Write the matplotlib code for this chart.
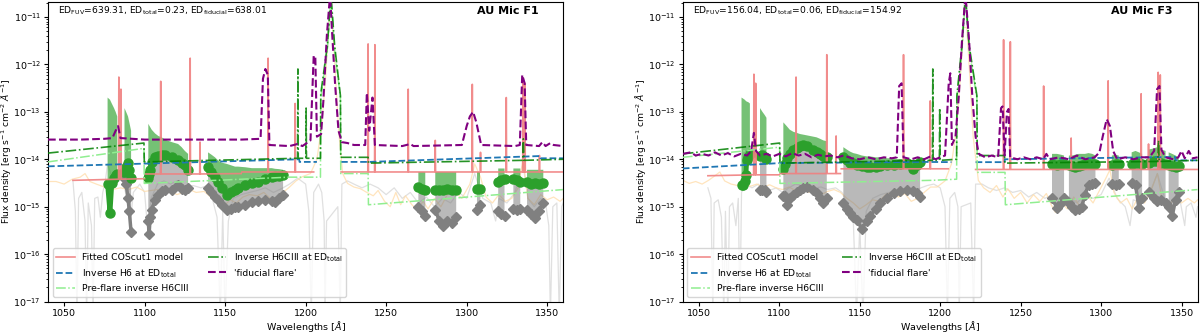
import numpy as np
import matplotlib
matplotlib.use("Agg")
import matplotlib.pyplot as plt

nan = np.nan

# ---------------- AU Mic F1 ----------------
F1_GREY = [(1055.5, 3.5e-15), (1057, 8e-16), (1058, 5e-18), (1059, 1.5e-15), (1061, 2e-15), (1063, 5e-16),
           (1064, 5e-18), (1065, 1.2e-15), (1067, 4e-16), (1068, 5e-18), (1069, 1.5e-15), (1071, 1.6e-15),
           (1072.5, 6e-16), (1074, 2e-15), (1075.4, 3.1e-15), (1077, 8e-15), (1079, 5e-15), (1082, 3e-15),
           (1086, 4e-15), (1089, 1.5e-15), (1091, 4e-16), (1093, 2e-15), (1097, 3e-15), (1100, 2e-15),
           (1102, 3e-16), (1104, 1.5e-15), (1108, 3e-15), (1112, 3.5e-15), (1116, 3e-15), (1120, 3.5e-15),
           (1125, 2.5e-15), (1130, 2.8e-15), (1135, 2.5e-15), (1139, 2.8e-15), (1142, 1.5e-15), (1145, 6e-16),
           (1147, 5e-18), (1148.5, 8e-16), (1150, 5e-18), (1152, 5e-16), (1155, 1.5e-15), (1160, 1.8e-15),
           (1165, 2e-15), (1170, 2.2e-15), (1175, 2.5e-15), (1180, 2e-15), (1185, 2.4e-15), (1190, 3e-15),
           (1195, 4e-15), (1200, 3e-15), (1202, 8e-16), (1203.5, 5e-18), (1205, 2e-15), (1208, 3e-15),
           (1210, 2e-15), (1211.5, 5e-16), (1212, 5e-18), (1213, 5e-16), (1220, 1e-15), (1221.5, 5e-18),
           (1222.5, 3e-15), (1226, 3.5e-15), (1230, 3e-15), (1235, 2.5e-15), (1240, 3e-15), (1245, 2.5e-15),
           (1250, 1.8e-15), (1255, 2.5e-15), (1260, 1.5e-15), (1265, 2e-15), (1270, 1.2e-15), (1275, 1.6e-15),
           (1280, 1e-15), (1285, 1.5e-15), (1290, 1.2e-15), (1295, 2e-15), (1300, 1.5e-15), (1305, 5e-15),
           (1310, 1.5e-15), (1315, 1.2e-15), (1318, 5e-16), (1320, 1.5e-15), (1325, 1.2e-15), (1330, 2e-15),
           (1335, 8e-15), (1338, 1.5e-15), (1342, 1e-15), (1346, 1.5e-15), (1349, 1.2e-15), (1351, 4e-16),
           (1352, 5e-18), (1353.5, 1e-15), (1356, 1.2e-15), (1357.5, 5e-18), (1359, 1e-15), (1360, 1.2e-15)]

F1_PREFLARE = [(1040, 3.4e-15), (1045, 3.4e-15), (1050, 3.0e-15), (1055, 3.8e-15), (1060, 4.2e-15), (1063, 5e-15),
               (1066, 3.4e-15), (1070, 3.0e-15), (1075, 2.6e-15), (1080, 2.3e-15), (1085, 2.5e-15), (1090, 2.3e-15),
               (1095, 2.6e-15), (1100, 2.1e-15), (1104, 2.2e-15), (1108, 2.3e-15), (1112, 1.8e-15), (1116, 2.2e-15),
               (1120, 1.8e-15), (1124, 2.0e-15), (1128, 2.3e-15), (1132, 2.0e-15), (1137, 2.1e-15), (1141, 1.6e-15),
               (1145, 1.2e-15), (1149, 1.0e-15), (1153, 1.4e-15), (1157, 1.2e-15), (1161, 1.6e-15), (1165, 1.8e-15),
               (1170, 1.7e-15), (1174, 2.0e-15), (1178, 1.5e-15), (1182, 1.3e-15), (1186, 2.0e-15), (1190, 2.6e-15),
               (1194, 3.5e-15), (1198, 4.3e-15), (1203, 5e-15), (1207, 1e-14), (1210, 5e-14), (1212.5, 6e-13),
               (1214.5, 8e-12), (1216.5, 8e-12), (1218.5, 6e-13), (1220.5, 4e-14), (1223, 5e-15), (1226, 3.1e-15),
               (1230, 2.6e-15), (1234, 2.4e-15), (1238, 2.0e-15), (1242, 1.7e-15), (1245, 2.2e-15), (1249, 1.3e-15),
               (1252.5, 1.0e-15), (1256, 2.0e-15), (1259, 1.1e-15), (1262, 1.7e-15), (1266, 1.1e-15), (1269, 8.7e-16),
               (1273, 1.3e-15), (1276, 9e-16), (1280, 1.5e-15), (1284, 1e-15), (1288, 1.8e-15), (1292, 2.2e-15),
               (1297, 1.5e-15), (1302, 3e-15), (1305, 8e-15), (1308.5, 4.3e-15), (1312, 1.6e-15), (1316, 1.2e-15),
               (1320, 1.8e-15), (1324, 1.3e-15), (1328, 1.5e-15), (1332, 2.5e-15), (1335, 1e-14), (1338, 1.5e-15),
               (1342, 1.1e-15), (1346, 1.8e-15), (1350, 1.4e-15), (1354, 1.6e-15), (1358, 1.3e-15), (1360, 1.5e-15)]

# (wavelength, pre-flare diamond, flare dot, upper flare envelope)
F1_POINTS = [(1077.0, nan, 3.0e-15, 2.0e-13), (1078.5, nan, 7.5e-16, 1.8e-13), (1079.6, nan, 3.1e-15, 1.5e-13),
             (1081.0, nan, 4.0e-15, 1.2e-13), (1082.0, nan, 4.6e-15, 1.0e-13), (1083.0, nan, 5.0e-15, 8e-14),
             (nan, nan, nan, nan),
             (1087.5, 4e-15, 5.4e-15, 1.2e-13), (1088.5, 3e-15, 7e-15, 1.0e-13), (1089.7, 1.5e-15, 8.3e-15, 8e-14),
             (1090.5, 8e-16, 6e-15, 6e-14), (1091.6, 2.9e-16, 4e-15, 4e-14),
             (nan, nan, nan, nan),
             (1102.3, 5e-16, 4e-15, 5.6e-14), (1102.8, 2.6e-16, 5e-15, 5.2e-14), (1103.4, 6e-16, 5.9e-15, 4.8e-14),
             (1104.4, 8.7e-16, 8.9e-15, 4.2e-14), (1106.5, 1.4e-15, 1.1e-14, 3.5e-14), (1108.5, 1.8e-15, 1.2e-14, 3.1e-14),
             (1110.6, 2.1e-15, 1.25e-14, 2.9e-14), (1112.7, 2.2e-15, 1.25e-14, 2.6e-14), (1116.9, 2.3e-15, 1.1e-14, 2.3e-14),
             (1120.8, 2.9e-15, 9.5e-15, 2.1e-14), (1123.0, 2.4e-15, 8.5e-15, 1.8e-14), (1125.0, 2.2e-15, 7.5e-15, 1.5e-14),
             (1127.0, 2.5e-15, 6e-15, 1.3e-14),
             (nan, nan, nan, nan),
             (1139.4, 2.5e-15, 6.9e-15, 1.4e-14), (1141.5, 2e-15, 5.5e-15, 1.25e-14), (1143.7, 1.6e-15, 4.3e-15, 1.1e-14),
             (1145.6, 1.4e-15, 3.3e-15, 9.5e-15), (1147.9, 1.1e-15, 2.5e-15, 8.5e-15), (1151.0, 8.7e-16, 1.8e-15, 8e-15),
             (1153.5, 9e-16, 2e-15, 7.5e-15), (1156.2, 1e-15, 2.3e-15, 7e-15), (1158.0, 1e-15, 2.5e-15, 7e-15),
             (1162.4, 1.1e-15, 2.9e-15, 6.8e-15), (1166.6, 1.25e-15, 3.1e-15, 6.5e-15), (1170.5, 1.3e-15, 3.4e-15, 6.5e-15),
             (1174.8, 1.4e-15, 3.8e-15, 6.5e-15), (1179.0, 1.3e-15, 4.3e-15, 6.5e-15), (1181.0, 1.25e-15, 4.4e-15, 6.3e-15),
             (1183.5, 1.5e-15, 4.5e-15, 6.2e-15), (1186.0, 1.8e-15, 4.6e-15, 6e-15),
             (nan, nan, nan, nan),
             (1270.0, 1.0e-15, 2.6e-15, 5.4e-15), (1272.0, 8e-16, 2.4e-15, 5.4e-15), (1274.3, 6.3e-16, 2.3e-15, 5.4e-15),
             (nan, nan, nan, nan),
             (1280.5, 8.7e-16, 2.3e-15, 5.4e-15), (1283.0, 5e-16, 2.2e-15, 5.4e-15), (1285.5, 3.9e-16, 2.3e-15, 5.4e-15),
             (1288.0, 5e-16, 2.4e-15, 5.4e-15), (1291.0, 4.5e-16, 2.2e-15, 5.4e-15), (1293.5, 6e-16, 2.3e-15, 5.4e-15),
             (nan, nan, nan, nan),
             (1306.4, 8.7e-16, 2.4e-15, 5.4e-15), (1308.5, 1.1e-15, 2.4e-15, 5.4e-15),
             (nan, nan, nan, nan),
             (1319.6, 8e-16, 3.4e-15, 6.4e-15), (1321.5, 7e-16, 3.6e-15, 6.4e-15), (1323.5, 6.3e-16, 3.8e-15, 6.4e-15),
             (nan, nan, nan, nan),
             (1329.0, 9e-16, 3.8e-15, 6.4e-15), (1331.0, 8.7e-16, 3.6e-15, 6.4e-15), (1333.3, 9e-16, 3.3e-15, 6.4e-15),
             (nan, nan, nan, nan),
             (1337.5, 8.7e-16, 3.3e-15, 6e-15), (1340.0, 7e-16, 3e-15, 6e-15), (1342.5, 5.8e-16, 3.1e-15, 6e-15),
             (1345.0, 8e-16, 3e-15, 6e-15), (1347.6, 1.2e-15, 3.2e-15, 6e-15)]

F1_MODEL = [(1055.5, 3.6e-15), (1083.8, 3.8e-15), (1084.0, 5.4e-13), (1084.2, 3.8e-15), (1085.1, 3.8e-15),
            (1085.3, 3e-13), (1085.5, 3.8e-15), (1100.0, 3.9e-15), (nan, nan),
            (1100.5, 4.9e-15), (1109.8, 4.9e-15), (1110.0, 4.4e-13), (1110.2, 4.9e-15), (1128.1, 4.9e-15),
            (1128.3, 1.35e-12), (1128.5, 4.9e-15), (1134.2, 4.9e-15), (1134.4, 2.3e-14), (1134.6, 4.9e-15),
            (1160.0, 5e-15), (nan, nan),
            (1160.5, 5.4e-15), (1176.5, 5.4e-15), (1176.7, 1.35e-12), (1176.9, 5.4e-15), (1193.3, 5.4e-15),
            (1193.5, 1.5e-13), (1193.7, 5.4e-15), (1205.0, 5.4e-15), (nan, nan),
            (1222.0, 5.4e-15), (1238.6, 5.4e-15), (1238.8, 2.7e-12), (1239.0, 5.4e-15), (1242.8, 5.4e-15),
            (1243.0, 2.6e-12), (1243.2, 5.4e-15), (1263.5, 5.4e-15), (1263.7, 3e-13), (1263.9, 5.4e-15),
            (1280.3, 5.4e-15), (1280.5, 2.5e-14), (1280.7, 5.4e-15), (1303.3, 5.4e-15), (1303.5, 3.8e-13),
            (1303.7, 5.4e-15), (1308.4, 5.4e-15), (1308.6, 1.4e-14), (1308.8, 5.4e-15), (1324.4, 5.4e-15),
            (1324.6, 2e-13), (1324.8, 5.4e-15), (1334.8, 5.4e-15), (1335.0, 5.2e-13), (1335.2, 5.4e-15),
            (1336.0, 5.4e-15), (1336.2, 4e-13), (1336.4, 5.4e-15), (1345.0, 5.4e-15), (1345.2, 1.2e-14),
            (1345.4, 5.4e-15), (1360.0, 5.4e-15)]

F1_INV_H6 = [(1040, 7.1e-15), (1196.0, 1.0e-14), (1196.2, 8.8e-15), (1207.0, 8.8e-15), (nan, nan),
             (1222.0, 8.8e-15), (1239.5, 8.8e-15), (1345.5, 1.17e-14), (1345.7, 1.05e-14), (1360, 1.05e-14)]

F1_PRE_H6CIII = [(1040, 8.8e-15), (1099.6, 1.7e-14), (1099.8, 3.1e-15), (1190, 4.2e-15), (1209.2, 4.2e-15),
                 (1209.4, 2e-13), (1213.5, 2e-12), (1215.7, 2.5e-11), (1218, 2e-12), (1221.6, 2e-13),
                 (1221.8, 5e-15), (1238.8, 5e-15), (1239.0, 1.1e-15), (1360, 2.3e-15)]

F1_INV_H6CIII = [(1040, 1.35e-14), (1099.6, 2.2e-14), (1099.8, 8.8e-15), (1195.0, 1.05e-14), (1195.2, 8e-13),
                 (1195.4, 1.05e-14), (1200.1, 1.05e-14), (1200.3, 1.2e-13), (1200.5, 1.05e-14), (1209.2, 1.05e-14),
                 (1209.4, 2.4e-13), (1213.5, 2.5e-12), (1215.7, 3e-11), (1218, 2.5e-12), (1221.6, 2.2e-13),
                 (1221.8, 1.1e-14), (1238.8, 1.1e-14), (1239.0, 8.3e-15), (1334.8, 9.5e-15), (1335.2, 2.7e-14),
                 (1335.6, 9.5e-15), (1360, 1e-14)]

F1_FIDUCIAL = [(1040, 2.6e-14), (1060, 2.6e-14), (1075, 2.7e-14), (1080, 2.8e-14), (1082, 4e-14), (1083.5, 5e-14),
               (1085, 2.8e-14), (1100, 2.6e-14), (1130, 2.6e-14), (1160, 2.6e-14), (1172, 2.7e-14), (1173.5, 5e-13),
               (1175, 8e-13), (1176.5, 6e-13), (1177.5, 2e-14), (1190, 1.9e-14), (1195, 2.1e-14), (1198, 1.9e-14),
               (1203, 2.5e-14), (1205, 1.5e-12), (1206, 1.5e-12), (1207, 3e-14), (1209.6, 3.4e-14), (1211, 1.7e-13),
               (1213.2, 4.2e-12), (1215.2, 3e-11), (1216.3, 5.6e-12), (1218.3, 3.8e-13), (1220.4, 4e-14),
               (1222.5, 2.3e-14), (1226, 2.2e-14), (1230, 2e-14), (1237, 2e-14), (1238, 2.5e-13), (1239.5, 4e-14),
               (1241.5, 2e-13), (1243, 2e-14), (1260, 1.9e-14), (1265, 2.1e-14), (1267, 1.9e-14), (1297, 2e-14),
               (1300, 5e-14), (1302, 8e-14), (1304, 1e-13), (1306, 6e-14), (1309, 2e-14), (1330, 1.9e-14),
               (1333, 2e-14), (1334.5, 6e-13), (1336, 4e-13), (1337, 2e-14), (1345, 1.9e-14), (1347, 2.3e-14),
               (1349, 1.9e-14), (1352, 2.2e-14), (1354, 2e-14), (1360, 1.9e-14)]

# ---------------- AU Mic F3 ----------------
F3_GREY = [(1055.6, 2.5e-15), (1057.5, 1.5e-15), (1058.7, 5e-18), (1059.5, 1.2e-15), (1062, 1.4e-15), (1064, 6e-16),
           (1065.5, 5e-18), (1066.5, 8e-16), (1068, 5e-18), (1069, 1e-15), (1071, 1.2e-15), (1073, 4e-16),
           (1074.5, 1.5e-15), (1075.5, 5e-18), (1076.5, 2e-15), (1079, 3e-15), (1083, 2.5e-15), (1087, 3e-15),
           (1090, 2e-15), (1094, 2.2e-15), (1098, 2.5e-15), (1102, 2e-15), (1106, 2.5e-15), (1110, 3e-15),
           (1114, 2.8e-15), (1118, 3e-15), (1122, 2.5e-15), (1126, 2.6e-15), (1130, 2.3e-15), (1135, 2.5e-15),
           (1139, 2e-15), (1143, 1e-15), (1146, 5e-16), (1148, 5e-18), (1150, 4e-16), (1152, 5e-18),
           (1154, 8e-16), (1158, 1.5e-15), (1163, 1.8e-15), (1168, 2e-15), (1173, 2.2e-15), (1178, 2.3e-15),
           (1183, 2e-15), (1188, 2.5e-15), (1192, 2.8e-15), (1196, 3e-15), (1200, 2.5e-15), (1203, 1e-15),
           (1204.5, 5e-18), (1206, 1.5e-15), (1209, 2e-15), (1211, 1e-15), (1211.8, 5e-18), (1213, 1e-15),
           (1219, 1.2e-15), (1220.8, 5e-18), (1222, 3e-15), (1226, 3e-15), (1230, 2.5e-15), (1235, 2.2e-15),
           (1240, 2.5e-15), (1245, 2e-15), (1250, 2.2e-15), (1255, 1.6e-15), (1260, 2e-15), (1265, 1.5e-15),
           (1270, 1.8e-15), (1275, 1.3e-15), (1280, 1.6e-15), (1285, 1.2e-15), (1290, 1.8e-15), (1295, 1.5e-15),
           (1300, 1.8e-15), (1305, 4e-15), (1310, 1.5e-15), (1315, 1e-15), (1318, 4e-16), (1320, 1.4e-15),
           (1325, 1.2e-15), (1330, 1.8e-15), (1335, 5e-15), (1340, 1.3e-15), (1345, 1e-15), (1349, 1.4e-15),
           (1352, 4e-16), (1353, 1e-15), (1356, 1.2e-15), (1359, 6e-16), (1360, 1e-15)]

F3_PREFLARE = [(1040, 3.6e-15), (1044, 3.1e-15), (1048, 3.4e-15), (1052, 3.0e-15), (1056, 3.6e-15), (1060, 4.5e-15),
               (1063, 5.4e-15), (1066, 3.5e-15), (1070, 3e-15), (1074, 2.8e-15), (1078, 3.2e-15), (1082, 2.7e-15),
               (1086, 3e-15), (1090, 2.6e-15), (1094, 2.9e-15), (1098, 2.5e-15), (1102, 2.3e-15), (1106, 2.6e-15),
               (1110, 2.2e-15), (1114, 2.5e-15), (1118, 2.0e-15), (1122, 2.2e-15), (1126, 1.8e-15), (1130, 2.1e-15),
               (1134, 2.3e-15), (1138, 2.0e-15), (1142, 1.5e-15), (1146, 1.2e-15), (1150, 9e-16), (1154, 1.1e-15),
               (1158, 1.4e-15), (1162, 1.3e-15), (1166, 1.8e-15), (1170, 2e-15), (1174, 1.6e-15), (1178, 1.9e-15),
               (1182, 1.3e-15), (1186, 1.5e-15), (1190, 2e-15), (1194, 2.6e-15), (1198, 2.6e-15), (1203, 3.5e-15),
               (1207, 8e-15), (1210, 4e-14), (1212.5, 5e-13), (1214.5, 6e-12), (1216.5, 6e-12), (1218.5, 5e-13),
               (1220.5, 3e-14), (1223.7, 3.6e-15), (1227, 2.5e-15), (1231, 2e-15), (1235, 2.8e-15), (1239, 1.6e-15),
               (1242, 2.4e-15), (1246, 1.5e-15), (1250, 2.0e-15), (1254, 1.2e-15), (1258, 1.8e-15), (1262, 1.3e-15),
               (1266, 1.9e-15), (1269, 1.1e-15), (1271.6, 7.6e-16), (1275, 1.3e-15), (1279, 9e-16), (1283, 1.6e-15),
               (1287, 1e-15), (1291, 1.8e-15), (1295, 1.2e-15), (1299, 2.2e-15), (1303, 4e-15), (1305.5, 6e-15),
               (1308, 2e-15), (1312, 1.2e-15), (1316, 1.5e-15), (1319.4, 9e-16), (1323, 1.6e-15), (1327, 1.2e-15),
               (1331, 2.2e-15), (1335, 5e-15), (1338, 1.4e-15), (1342, 1e-15), (1346, 1.6e-15), (1350, 1.2e-15),
               (1354, 1.5e-15), (1358, 1.2e-15), (1360, 1.4e-15)]

F3_POINTS = [(1076.5, nan, 2.9e-15, 2.0e-13), (1077.5, nan, 2.9e-15, 1.9e-13), (1078.5, nan, 3.5e-15, 1.8e-13),
             (1079.2, nan, 4.6e-15, 1.7e-13), (1079.7, nan, 9.5e-15, 1.65e-13), (1080.7, nan, 1.1e-14, 1.6e-13),
             (1081.7, nan, 1.3e-14, 1.5e-13),
             (nan, nan, nan, nan),
             (1088.0, 2.3e-15, 1.2e-14, 1.2e-13), (1089.5, 2.3e-15, 1.25e-14, 1.0e-13), (1091.0, 2.3e-15, 1.1e-14, 8.5e-14),
             (1092.0, 2.0e-15, 1.0e-14, 7.5e-14),
             (nan, nan, nan, nan),
             (1102.5, 1.65e-15, 6.3e-15, 6e-14), (1103.5, 1.65e-15, 8e-15, 5.5e-14), (1104.6, 1.1e-15, 1.05e-14, 5e-14),
             (1106.5, 1.5e-15, 1.3e-14, 4.2e-14), (1108.7, 1.8e-15, 1.55e-14, 3.8e-14), (1110.8, 2e-15, 1.75e-14, 3.6e-14),
             (1113.0, 2.3e-15, 1.9e-14, 3.4e-14), (1115.0, 2.5e-15, 2e-14, 3.3e-14), (1117.0, 2.6e-15, 1.9e-14, 3.2e-14),
             (1121.1, 2.2e-15, 1.55e-14, 3.0e-14), (1123.2, 1.9e-15, 1.4e-14, 2.9e-14), (1125.3, 1.5e-15, 1.3e-14, 2.7e-14),
             (1127.4, 1.2e-15, 1.2e-14, 2.5e-14), (1129.5, 1.5e-15, 1.1e-14, 2.4e-14),
             (nan, nan, nan, nan),
             (1139.8, 1.2e-15, 1.1e-14, 1.8e-14), (1142.0, 9e-16, 9.5e-15, 1.6e-14), (1144.0, 7.4e-16, 8.5e-15, 1.45e-14),
             (1146.0, 6.2e-16, 8.3e-15, 1.35e-14), (1148.1, 5.3e-16, 7.7e-15, 1.3e-14), (1151.3, 3.4e-16, 7.2e-15, 1.2e-14),
             (1154.4, 5e-16, 7e-15, 1.15e-14), (1156.4, 6.3e-16, 7e-15, 1.15e-14), (1160.0, 9e-16, 7e-15, 1.1e-14),
             (1162.7, 1.2e-15, 7.2e-15, 1.1e-14), (1167.0, 1.5e-15, 7.4e-15, 1.05e-14), (1171.0, 1.9e-15, 7.5e-15, 1.05e-14),
             (1175.0, 2.1e-15, 8e-15, 1.0e-14), (1179.3, 2.3e-15, 8.3e-15, 1.0e-14), (1183.4, 2.1e-15, 6.3e-15, 9.5e-15),
             (1185.5, 1.9e-15, 7.5e-15, 9.5e-15), (1187.5, 1.6e-15, 8.8e-15, 9.8e-15),
             (nan, nan, nan, nan),
             (1269.5, 1.5e-15, 8e-15, 1.3e-14), (1272.6, 9.5e-16, 7.5e-15, 1.3e-14), (1275.0, 1.2e-15, 7.8e-15, 1.25e-14),
             (1277.0, 1.5e-15, 8e-15, 1.2e-14),
             (nan, nan, nan, nan),
             (1280.0, 1.2e-15, 7.5e-15, 1.2e-14), (1282.0, 1e-15, 7.2e-15, 1.2e-14), (1284.0, 8.7e-16, 7.0e-15, 1.25e-14),
             (1286.0, 9e-16, 7.3e-15, 1.3e-14), (1288.0, 1.0e-15, 7.5e-15, 1.3e-14), (1290.0, 1.8e-15, 7.8e-15, 1.3e-14),
             (1292.2, 2.9e-15, 8e-15, 1.35e-14), (1294.5, 3e-15, 8e-15, 1.3e-14), (1296.5, 3.2e-15, 7.8e-15, 1.2e-14),
             (nan, nan, nan, nan),
             (1306.7, 3e-15, 7.5e-15, 1.2e-14), (1309.0, 2.9e-15, 7.8e-15, 1.25e-14), (1311.0, 3e-15, 7.8e-15, 1.2e-14),
             (nan, nan, nan, nan),
             (1319.0, 3.2e-15, 8e-15, 1.4e-14), (1321.4, 2.9e-15, 8.3e-15, 1.5e-14), (1323.5, 9.5e-16, 8.3e-15, 1.4e-14),
             (1325.5, 1.5e-15, 8e-15, 1.3e-14),
             (nan, nan, nan, nan),
             (1329.5, 2e-15, 8.5e-15, 1.6e-14), (1332.8, 1.5e-15, 9e-15, 1.7e-14), (1335.0, 1.3e-15, 9e-15, 1.8e-14),
             (1337.5, 1.4e-15, 8.5e-15, 1.6e-14), (1340.1, 1.2e-15, 8e-15, 1.5e-14),
             (nan, nan, nan, nan),
             (1342.0, 1e-15, 7.5e-15, 1.4e-14), (1344.2, 6.3e-16, 7.2e-15, 1.3e-14), (1346.3, 1.4e-15, 7e-15, 1.2e-14),
             (1348.2, 2e-15, 7.2e-15, 1.1e-14)]

F3_MODEL = [(1055.6, 4.5e-15), (1084.0, 4.7e-15), (1084.2, 6.2e-13), (1084.4, 4.7e-15), (1085.1, 4.7e-15),
            (1085.3, 4e-13), (1085.5, 4.7e-15), (1100.0, 4.7e-15), (nan, nan),
            (1100.5, 5e-15), (1110.2, 5e-15), (1110.4, 5.4e-13), (1110.6, 5e-15), (1129.3, 5e-15),
            (1129.5, 1.6e-12), (1129.7, 5e-15), (1135.1, 5e-15), (1135.3, 3.1e-14), (1135.5, 5e-15),
            (1138.0, 5e-15), (nan, nan),
            (1138.5, 6.3e-15), (1177.0, 6.3e-15), (1177.2, 1.6e-12), (1177.4, 6.3e-15), (1193.6, 6.3e-15),
            (1193.8, 1.7e-13), (1194.0, 6.3e-15), (1205.0, 6.3e-15), (nan, nan),
            (1222.0, 6.1e-15), (1239.2, 6.1e-15), (1239.4, 3.3e-12), (1239.6, 6.1e-15), (1243.4, 6.1e-15),
            (1243.6, 3e-12), (1243.8, 6.1e-15), (1264.1, 6.1e-15), (1264.3, 3.5e-13), (1264.5, 6.1e-15),
            (1281.2, 6.1e-15), (1281.4, 2.8e-14), (1281.6, 6.1e-15), (1304.2, 6.1e-15), (1304.4, 4.5e-13),
            (1304.6, 6.1e-15), (1324.7, 6.1e-15), (1324.9, 2.4e-13), (1325.1, 6.1e-15), (1329.3, 6.1e-15),
            (1329.5, 2.1e-14), (1329.7, 6.1e-15), (1335.3, 6.1e-15), (1335.5, 6.8e-13), (1335.7, 6.1e-15),
            (1336.6, 6.1e-15), (1336.8, 6e-13), (1337.0, 6.1e-15), (1360.0, 6.1e-15)]

F3_INV_H6 = [(1040, 6.4e-15), (1100, 8.3e-15), (1190, 8.8e-15), (1207.0, 8.7e-15), (nan, nan),
             (1222.0, 8.7e-15), (1240.0, 8.7e-15), (1240.2, 1.0e-14), (1346.0, 1.12e-14), (1346.2, 9.5e-15),
             (1360, 9.5e-15)]

F3_PRE_H6CIII = [(1040, 1.1e-14), (1100.2, 1.8e-14), (1100.4, 3.1e-15), (1195, 3.6e-15), (1210.2, 3.8e-15),
                 (1210.4, 2e-13), (1213.5, 2e-12), (1215.7, 2.5e-11), (1218, 2e-12), (1222.8, 2e-13),
                 (1223.0, 5.3e-15), (1240.3, 5.3e-15), (1240.5, 1.1e-15), (1360, 2.3e-15)]

F3_INV_H6CIII = [(1040, 1.3e-14), (1100.2, 2.2e-14), (1100.4, 8.3e-15), (1195.2, 9.5e-15), (1195.4, 8e-13),
                 (1195.6, 9.5e-15), (1199.5, 9.5e-15), (1199.7, 1.2e-13), (1199.9, 9.5e-15), (1210.2, 1.0e-14),
                 (1210.4, 2.2e-13), (1213.5, 2.5e-12), (1215.7, 3e-11), (1218, 2.5e-12), (1222.8, 2.2e-13),
                 (1223.0, 1.2e-14), (1240.0, 1.2e-14), (1240.2, 8.3e-15), (1335.3, 9e-15), (1335.7, 2.5e-14),
                 (1336.1, 9e-15), (1360, 9.5e-15)]

F3_FIDUCIAL = [(1040, 1.3e-14), (1045, 1.4e-14), (1048, 1.2e-14), (1052, 1.3e-14), (1056, 1.2e-14), (1060, 1.4e-14),
               (1064, 1.2e-14), (1068, 1.35e-14), (1072, 1.15e-14), (1076, 1.3e-14), (1080, 1.2e-14), (1082.5, 1.5e-14),
               (1084.2, 3.6e-14), (1085.5, 1.5e-14), (1088, 1.2e-14), (1092, 1.3e-14), (1096, 1.15e-14), (1100, 1.3e-14),
               (1104, 1.15e-14), (1108, 1.35e-14), (1112, 1.2e-14), (1116, 1.3e-14), (1120, 1.1e-14), (1124, 1.25e-14),
               (1128, 1.15e-14), (1132, 1.2e-14), (1136, 1.1e-14), (1140, 1.2e-14), (1145, 1.05e-14), (1150, 1.0e-14),
               (1155, 1.1e-14), (1160, 1.0e-14), (1165, 1.1e-14), (1170, 1.05e-14), (1173, 1.1e-14), (1174.5, 3.5e-13),
               (1176, 4e-13), (1177.2, 1.1e-14), (1182, 1.0e-14), (1186, 1.1e-14), (1190, 1.0e-14), (1194, 1.15e-14),
               (1197, 1e-14), (1200, 1.1e-14), (1203, 1.2e-14), (1205.3, 4e-13), (1206.3, 6.5e-13), (1207.3, 2e-14),
               (1209.5, 3e-14), (1211.5, 2e-13), (1213.5, 3e-12), (1215.7, 3e-11), (1218, 3e-12), (1220, 2e-13),
               (1222, 3e-14), (1224, 1.3e-14), (1228, 1.1e-14), (1232, 1.2e-14), (1236, 1.1e-14), (1237.8, 1.2e-13),
               (1238.8, 1.3e-13), (1240, 1.2e-14), (1241.5, 1e-13), (1242.5, 1.15e-13), (1243.5, 1.1e-14),
               (1248, 1.0e-14), (1252, 1.1e-14), (1256, 1.0e-14), (1260, 1.1e-14), (1264, 1.0e-14), (1266, 1.3e-14),
               (1268, 1.0e-14), (1274, 1.1e-14), (1280, 1e-14), (1285, 1.2e-14), (1290, 1e-14), (1296, 1.1e-14),
               (1299, 1.4e-14), (1301, 3e-14), (1303.5, 7e-14), (1305.5, 5e-14), (1307.5, 1.5e-14), (1310, 1.0e-14),
               (1315, 1.1e-14), (1320, 1e-14), (1325, 1.1e-14), (1330, 1.1e-14), (1333, 1.5e-14), (1334.8, 3e-13),
               (1336.3, 3.5e-13), (1337.5, 1.6e-14), (1340, 1.1e-14), (1345, 1.0e-14), (1348, 1.1e-14),
               (1350, 1.5e-14), (1352, 1.05e-14), (1354.5, 1.5e-14), (1357, 1.05e-14), (1360, 1.1e-14)]

F1_TEXT = r"ED$_{\rm FUV}$=639.31, ED$_{\rm total}$=0.23, ED$_{\rm fiducial}$=638.01"
F3_TEXT = r"ED$_{\rm FUV}$=156.04, ED$_{\rm total}$=0.06, ED$_{\rm fiducial}$=154.92"

X_TICKS = [1050, 1100, 1150, 1200, 1250, 1300, 1350]
Y_TICKS = [1e-17, 1e-16, 1e-15, 1e-14, 1e-13, 1e-12, 1e-11]


def cols(rows):
    a = np.array(rows, dtype=float)
    return [a[:, i] for i in range(a.shape[1])]


def draw_panel(ax, grey, preflare, points, model, inv_h6, pre_h6ciii, inv_h6ciii, fiducial, ed_text, title):
    x, y = cols(grey)
    ax.plot(x, y, color='lightgrey', lw=0.9, alpha=0.7, zorder=1)
    x, y = cols(preflare)
    ax.plot(x, y, color='navajowhite', lw=0.9, alpha=0.8, zorder=1)

    wav, dia, dot, top = cols(points)
    ax.fill_between(wav, dia, dot, color='grey', alpha=0.55, lw=0, zorder=2)
    ax.plot(wav, dia, 'D-', color='grey', ms=5, lw=2.5, zorder=2)
    ax.fill_between(wav, dot, top, color='tab:green', alpha=0.65, lw=0, zorder=3)
    ax.plot(wav, dot, 'o-', color='tab:green', ms=6.5, lw=3.5, zorder=3)

    x, y = cols(model)
    ax.plot(x, y, color='lightcoral', lw=1.2, alpha=0.9, zorder=4, label='Fitted COScut1 model')
    x, y = cols(inv_h6)
    ax.plot(x, y, '--', color='tab:blue', lw=1.3, zorder=5, label=r'Inverse H6 at ED$_{\rm total}$')
    x, y = cols(pre_h6ciii)
    ax.plot(x, y, '-.', color='lightgreen', lw=1.1, zorder=5, label='Pre-flare inverse H6CIII')
    x, y = cols(inv_h6ciii)
    ax.plot(x, y, '-.', color='green', lw=1.2, alpha=0.85, zorder=5,
            label=r'Inverse H6CIII at ED$_{\rm total}$')
    x, y = cols(fiducial)
    ax.plot(x, y, '--', color='purple', lw=1.5, zorder=6, label="'fiducial flare'")

    ax.set_yscale('log')
    ax.set_xticks(X_TICKS)
    ax.set_yticks(Y_TICKS)
    ax.set_xlim(1040, 1360)
    ax.set_ylim(1e-17, 2.1e-11)
    ax.set_xlabel(r'Wavelengths [$\AA$]', fontsize=6.8, labelpad=1)
    ax.set_ylabel(r'Flux density [erg s$^{-1}$ cm$^{-2}$ $\AA^{-1}$]', fontsize=6.6)
    ax.yaxis.set_label_coords(-0.067, 0.5)
    ax.tick_params(labelsize=6.8, pad=2, length=3)
    ax.tick_params(which='minor', length=1.8)
    ax.text(0.02, 0.99, ed_text, transform=ax.transAxes, ha='left', va='top', fontsize=6.6)
    ax.text(0.952, 0.985, title, transform=ax.transAxes, ha='right', va='top', fontsize=8, fontweight='bold')
    ax.legend(loc='lower left', ncol=2, fontsize=6.7, framealpha=0.8)


fig = plt.figure(figsize=(12, 3.34), dpi=100)
ax1 = fig.add_axes([0.04, 0.097, 0.4294, 0.898])
ax2 = fig.add_axes([0.569, 0.097, 0.429, 0.898])

draw_panel(ax1, F1_GREY, F1_PREFLARE, F1_POINTS, F1_MODEL, F1_INV_H6, F1_PRE_H6CIII, F1_INV_H6CIII,
           F1_FIDUCIAL, F1_TEXT, 'AU Mic F1')
draw_panel(ax2, F3_GREY, F3_PREFLARE, F3_POINTS, F3_MODEL, F3_INV_H6, F3_PRE_H6CIII, F3_INV_H6CIII,
           F3_FIDUCIAL, F3_TEXT, 'AU Mic F3')

fig.savefig('out.png', dpi=100)
